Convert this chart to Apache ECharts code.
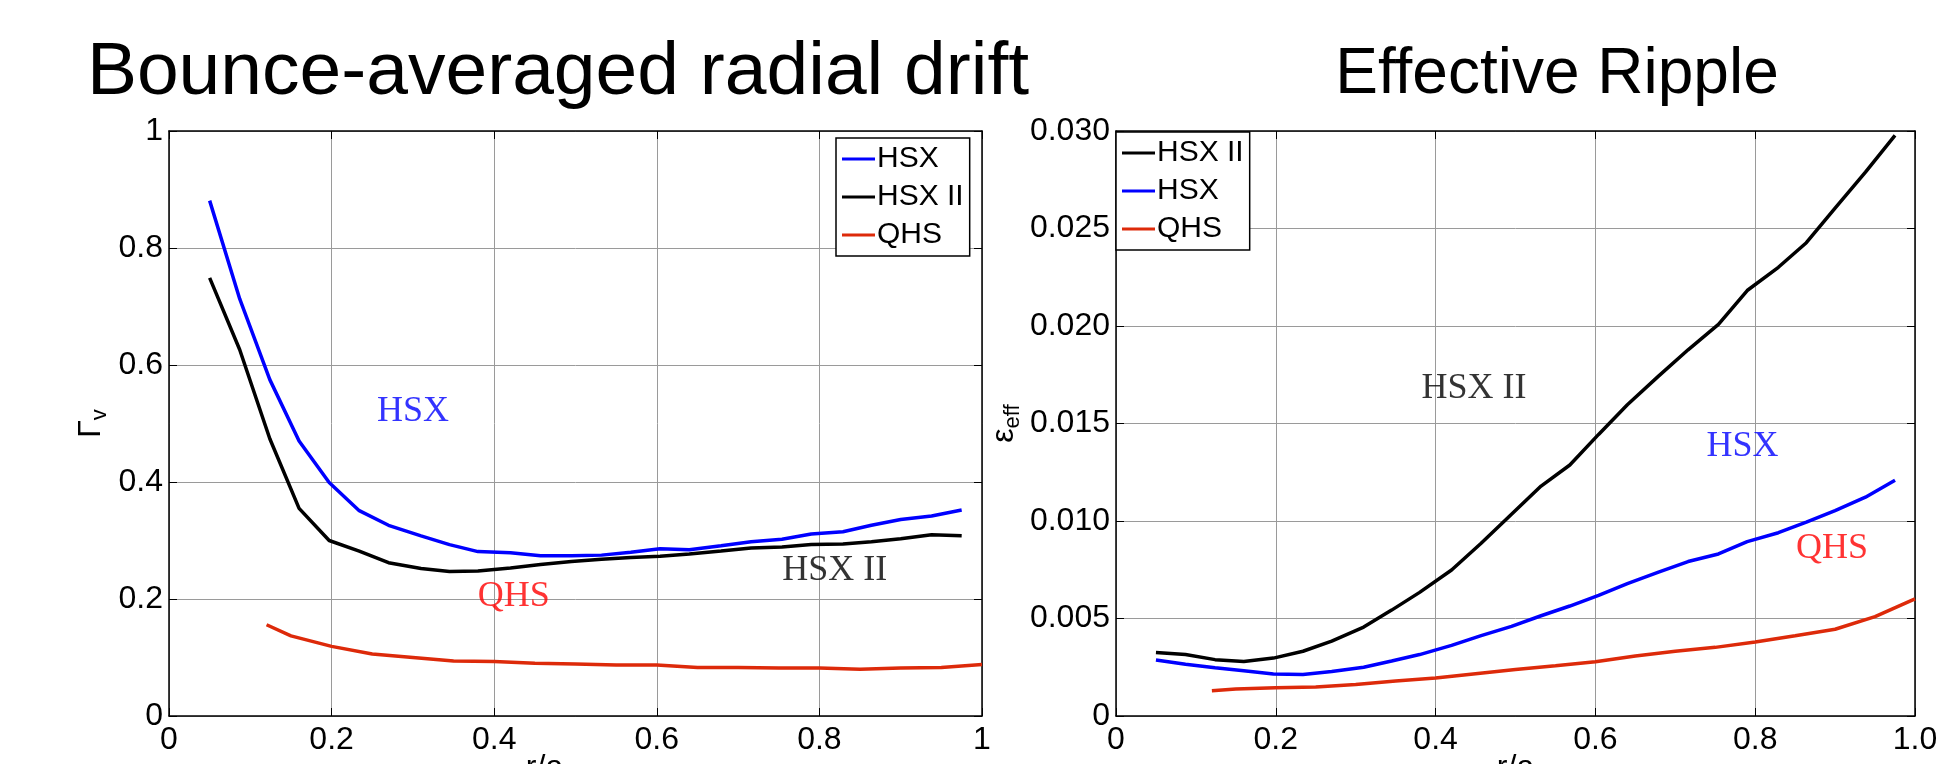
<!DOCTYPE html>
<html>
<head>
<meta charset="utf-8">
<script src="https://cdn.jsdelivr.net/npm/echarts@6/dist/echarts.min.js"></script>
<style>
html,body{margin:0;padding:0;background:#fff;}
#c{width:1954px;height:764px;}
</style>
</head>
<body>
<div id="c"></div>
<script>
// ---------- data ----------
const xHsx = [0.05,0.087,0.124,0.16,0.197,0.234,0.27,0.31,0.345,0.38,0.42,0.457,0.495,0.532,0.568,0.604,0.64,0.679,0.716,0.754,0.79,0.829,0.864,0.9,0.938,0.975];
const xQhs = [0.12,0.15,0.2,0.25,0.3,0.35,0.4,0.45,0.5,0.55,0.6,0.65,0.7,0.75,0.8,0.85,0.9,0.95,1.0];

// Bounce-averaged radial drift (Gamma_v)
const driftHSX   = [0.881,0.713,0.575,0.470,0.399,0.351,0.326,0.308,0.293,0.281,0.279,0.274,0.274,0.275,0.280,0.286,0.284,0.291,0.298,0.302,0.311,0.315,0.326,0.336,0.342,0.352];
const driftHSXII = [0.749,0.626,0.474,0.355,0.300,0.282,0.262,0.252,0.247,0.248,0.253,0.259,0.264,0.268,0.271,0.273,0.277,0.282,0.287,0.289,0.293,0.294,0.298,0.303,0.310,0.308];
const driftQHS   = [0.156,0.137,0.119,0.106,0.100,0.094,0.093,0.090,0.089,0.087,0.087,0.083,0.083,0.082,0.082,0.080,0.082,0.083,0.088];

// Effective ripple (eps_eff)
const rippleHSXII = [0.00326,0.00315,0.00289,0.00280,0.00297,0.00332,0.00384,0.00456,0.00543,0.00634,0.00749,0.00886,0.01035,0.01179,0.01287,0.01444,0.01596,0.01743,0.01878,0.02008,0.02182,0.02301,0.02427,0.02605,0.02789,0.02978];
const rippleHSX   = [0.00287,0.00265,0.00247,0.00232,0.00215,0.00213,0.00228,0.00250,0.00282,0.00315,0.00362,0.00412,0.00460,0.00514,0.00564,0.00619,0.00679,0.00738,0.00792,0.00831,0.00894,0.00940,0.00994,0.01053,0.01122,0.01209];
const rippleQHS   = [0.00130,0.00138,0.00145,0.00149,0.00161,0.00180,0.00195,0.00217,0.00239,0.00258,0.00278,0.00308,0.00332,0.00352,0.00380,0.00412,0.00445,0.00510,0.00601];

const titles = ['Bounce-averaged radial drift', 'Effective Ripple'];
const legendLeft  = ['HSX', 'HSX II', 'QHS'];
const legendRight = ['HSX II', 'HSX', 'QHS'];
const annotLeft  = [['HSX', 0.30, 0.52], ['QHS', 0.424, 0.205], ['HSX II', 0.819, 0.248]];
const annotRight = [['HSX II', 0.448, 0.0168], ['HSX', 0.784, 0.0138], ['QHS', 0.896, 0.0086]];

// ---------- styles ----------
const SANS = 'Liberation Sans, Arial, sans-serif';
const SERIF = 'Liberation Serif, Times New Roman, serif';
const COL = {'HSX': '#0000ff', 'HSX II': '#000000', 'QHS': '#dd2a0a'};
const ANNCOL = {'HSX': '#0000ff', 'HSX II': '#000000', 'QHS': '#ff0000'};

function zip(xs, ys){ return xs.map((x,i)=>[x, ys[i]]); }

function mainX(gi, fmt, namePad){
  return {type:'value', gridIndex:gi, min:0, max:1, interval:0.2, position:'bottom',
    axisLine:{show:true, onZero:false, lineStyle:{color:'#000', width:1.5}},
    axisTick:{show:true, inside:true, length:8, lineStyle:{color:'#000', width:1}},
    axisLabel:{color:'#000', fontFamily:SANS, fontSize:32, margin:8, formatter:fmt},
    splitLine:{show:true, lineStyle:{color:'#9a9a9a', width:1}},
    name:'r/a', nameLocation:'middle', nameGap:36, nameMoveOverlap:false,
    nameTextStyle:{color:'#000', fontFamily:SANS, fontSize:32, padding:namePad}};
}
function topX(gi){
  return {type:'value', gridIndex:gi, min:0, max:1, interval:0.2, position:'top',
    axisLine:{show:true, onZero:false, lineStyle:{color:'#000', width:1.5}},
    axisTick:{show:true, inside:true, length:8, lineStyle:{color:'#000', width:1}},
    axisLabel:{show:false}, splitLine:{show:false}};
}
function mainY(gi, max, interval, fmt, name, gap){
  return {type:'value', gridIndex:gi, min:0, max:max, interval:interval, position:'left',
    axisLine:{show:true, onZero:false, lineStyle:{color:'#000', width:1.5}},
    axisTick:{show:true, inside:true, length:8, lineStyle:{color:'#000', width:1}},
    axisLabel:{color:'#000', fontFamily:SANS, fontSize:32, margin:6, formatter:fmt},
    splitLine:{show:true, lineStyle:{color:'#9a9a9a', width:1}},
    name:name, nameLocation:'middle', nameGap:gap, nameRotate:90,
    nameTextStyle:{color:'#000', fontFamily:SANS,
      rich:{m:{fontSize:32, fontFamily:SANS, color:'#000', verticalAlign:'top', lineHeight:36},
            s:{fontSize:22, fontFamily:SANS, color:'#000', verticalAlign:'bottom', lineHeight:22, padding:[14,0,0,0]}}}};
}
function rightY(gi, max, interval){
  return {type:'value', gridIndex:gi, min:0, max:max, interval:interval, position:'right',
    axisLine:{show:true, onZero:false, lineStyle:{color:'#000', width:1.5}},
    axisTick:{show:true, inside:true, length:8, lineStyle:{color:'#000', width:1}},
    axisLabel:{show:false}, splitLine:{show:false}};
}
function lineSeries(name, xi, yi, data){
  return {type:'line', name:name, xAxisIndex:xi, yAxisIndex:yi, data:data,
    showSymbol:false, symbol:'none', smooth:false, animation:false,
    lineStyle:{color:COL[name], width:3.5}, itemStyle:{color:COL[name]}, z:3};
}
function annotSeries(list, xi, yi){
  return {type:'scatter', xAxisIndex:xi, yAxisIndex:yi, symbolSize:0, silent:true, animation:false,
    data: list.map(a=>({value:[a[1], a[2]], name:a[0],
      label:{show:true, position:'inside', formatter:a[0], color:ANNCOL[a[0]],
             fontFamily:SERIF, fontSize:36}}))};
}
function legend(names, left, top){
  return {show:true, data:names, orient:'vertical', left:left, top:top,
    itemWidth:33, itemHeight:3, itemGap:8, icon:'rect', padding:[6,6,6,6],
    borderColor:'#000', borderWidth:1.5, backgroundColor:'#fff', borderRadius:0,
    selectedMode:false,
    textStyle:{color:'#000', fontFamily:SANS, fontSize:30, padding:[0,0,0,-3]}};
}

const chart = echarts.init(document.getElementById('c'), null, {renderer:'canvas'});
chart.setOption({
  backgroundColor:'#fff',
  animation:false,
  title:[
    {text:titles[0], left:553, top:31, textAlign:'center',
     textStyle:{fontFamily:SANS, fontSize:75, fontWeight:'normal', color:'#000'}},
    {text:titles[1], left:1552, top:38, textAlign:'center',
     textStyle:{fontFamily:SANS, fontSize:64, fontWeight:'normal', color:'#000'}}
  ],
  legend:[legend(legendLeft, 836, 138), legend(legendRight, 1116, 132)],
  grid:[
    {left:169, right:1954-982, top:131, bottom:48, show:false, containLabel:false, outerBoundsMode:'none'},
    {left:1116, right:39, top:131, bottom:48, show:false, containLabel:false, outerBoundsMode:'none'}
  ],
  xAxis:[
    mainX(0, v => v===0 ? '0' : (v===1 ? '1' : v.toFixed(1)), [0,62,0,0]),
    mainX(1, v => v===0 ? '0' : v.toFixed(1), [0,0,0,0]),
    topX(0), topX(1)
  ],
  yAxis:[
    mainY(0, 1, 0.2, v => v===0 ? '0' : (v===1 ? '1' : v.toFixed(1)), '{m|Γ}{s|v}', 58),
    mainY(1, 0.03, 0.005, v => v===0 ? '0' : v.toFixed(3), '{m|ε}{s|eff}', 92),
    rightY(0, 1, 0.2), rightY(1, 0.03, 0.005)
  ],
  series:[
    lineSeries('HSX', 0, 0, zip(xHsx, driftHSX)),
    lineSeries('HSX II', 0, 0, zip(xHsx, driftHSXII)),
    lineSeries('QHS', 0, 0, zip(xQhs, driftQHS)),
    lineSeries('HSX II', 1, 1, zip(xHsx, rippleHSXII)),
    lineSeries('HSX', 1, 1, zip(xHsx, rippleHSX)),
    lineSeries('QHS', 1, 1, zip(xQhs, rippleQHS)),
    annotSeries(annotLeft, 0, 0),
    annotSeries(annotRight, 1, 1)
  ]
});
</script>
</body>
</html>
